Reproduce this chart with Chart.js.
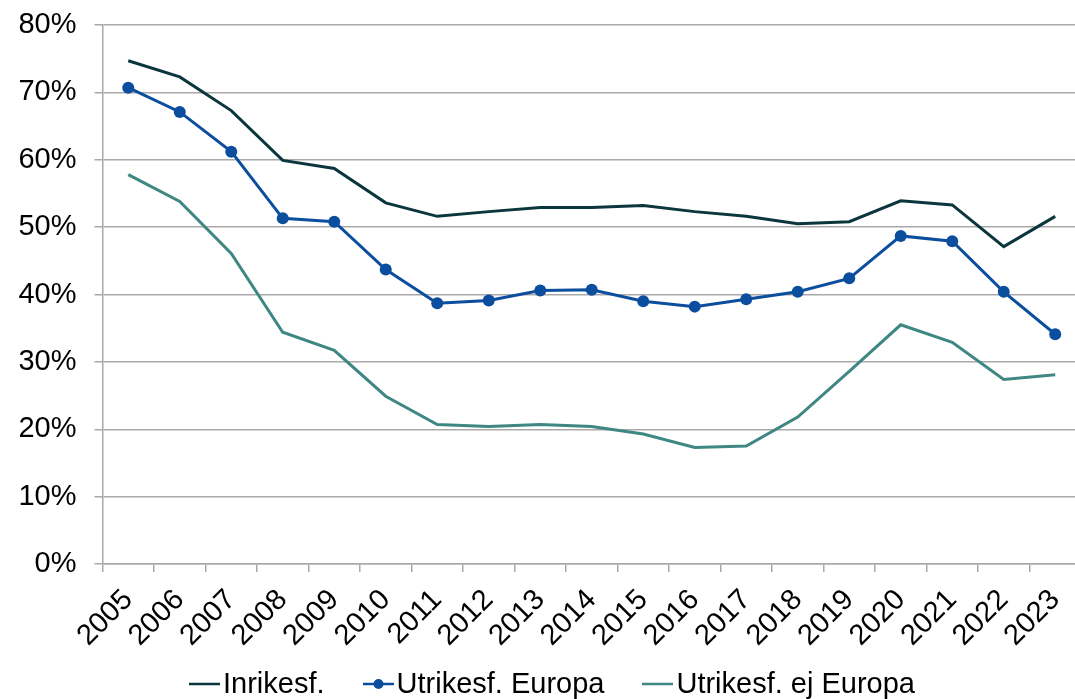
<!DOCTYPE html>
<html>
<head>
<meta charset="utf-8">
<script src="https://cdn.jsdelivr.net/npm/chart.js@4.4.1/dist/chart.umd.min.js"></script>
<style>
  html, body { margin: 0; padding: 0; background: #fff; overflow: hidden; }
  #wrap { position: relative; width: 1091px; height: 699px; }
  #legend {
    position: absolute; left: 189px; top: 669px;
    display: flex; align-items: center;
    font-family: "Liberation Sans", Arial, sans-serif; font-size: 29px; line-height: 29px; color: #000;
    white-space: nowrap;
  }
  #legend .item { display: flex; align-items: center; margin-right: 38px; }
  #legend svg { margin-right: 3px; }
</style>
</head>
<body>
<div id="wrap">
  <canvas id="myCanvas"></canvas>
  <div id="legend"></div>
</div>
<script>
// Data
const years = ['2005', '2006', '2007', '2008', '2009', '2010', '2011', '2012', '2013', '2014',
               '2015', '2016', '2017', '2018', '2019', '2020', '2021', '2022', '2023'];
const inrikes = [74.7, 72.3, 67.3, 59.9, 58.7, 53.6, 51.6, 52.3, 52.9, 52.9,
                 53.2, 52.3, 51.6, 50.5, 50.8, 53.9, 53.3, 47.1, 51.6];
const utrikesEuropa = [70.7, 67.1, 61.2, 51.3, 50.8, 43.7, 38.7, 39.1, 40.6, 40.7,
                       39.0, 38.2, 39.3, 40.4, 42.4, 48.7, 47.9, 40.4, 34.1];
const utrikesEjEuropa = [57.8, 53.8, 46.1, 34.4, 31.7, 24.9, 20.7, 20.4, 20.7, 20.4,
                         19.3, 17.3, 17.5, 21.8, 28.6, 35.5, 32.9, 27.4, 28.1];
const yTicks = [0, 10, 20, 30, 40, 50, 60, 70, 80];

const seriesNames = ['Inrikesf.', 'Utrikesf. Europa', 'Utrikesf. ej Europa'];
const seriesColors = ['#0c363d', '#0c4e9e', '#3f8782'];

const font = { family: '"Liberation Sans", Arial, sans-serif', size: 29 };
const gridColor = '#a9a9a9';

const ctx = document.getElementById('myCanvas').getContext('2d');

const chart = new Chart(ctx, {
    type: 'line',
    data: {
        labels: years,
        datasets: [
            {
                label: seriesNames[0],
                data: inrikes,
                borderColor: seriesColors[0],
                borderWidth: 3,
                pointRadius: 0,
                fill: false,
            },
            {
                label: seriesNames[1],
                data: utrikesEuropa,
                borderColor: seriesColors[1],
                backgroundColor: seriesColors[1],
                borderWidth: 3,
                pointRadius: 6,
                pointBorderWidth: 0,
                pointBackgroundColor: seriesColors[1],
                fill: false,
            },
            {
                label: seriesNames[2],
                data: utrikesEjEuropa,
                borderColor: seriesColors[2],
                borderWidth: 3,
                pointRadius: 0,
                fill: false,
            },
        ],
    },
    options: {
        responsive: true,
        maintainAspectRatio: false,
        devicePixelRatio: 1,
        animation: false,
        layout: { padding: { top: 25, right: 0, bottom: 0, left: 0 } },
        plugins: {
            legend: { display: false },
            tooltip: { enabled: false },
        },
        scales: {
            x: {
                offset: true,
                grid: {
                    offset: true,
                    drawOnChartArea: false,
                    drawTicks: true,
                    tickLength: 8,
                    color: gridColor,
                    lineWidth: 1.5,
                },
                border: { color: gridColor, width: 1.5 },
                ticks: {
                    font: font,
                    color: '#000',
                    minRotation: 45,
                    maxRotation: 45,
                    autoSkip: false,
                    padding: 11,
                },
                afterFit: (scale) => { scale.height = 135; },
            },
            y: {
                min: 0,
                max: 80,
                afterBuildTicks: (scale) => { scale.ticks = yTicks.map(v => ({ value: v })); },
                grid: {
                    color: gridColor,
                    lineWidth: 1.5,
                    drawTicks: true,
                    tickLength: 8,
                },
                border: { color: gridColor, width: 1.5 },
                ticks: {
                    font: font,
                    color: '#000',
                    padding: 18,
                    callback: (v) => v + '%',
                },
                afterFit: (scale) => {
                    scale.width = 102.5;
                    scale.paddingTop = 0;
                    scale.paddingBottom = 0;
                },
            },
        },
    },
});

// Legend (HTML) built from the series names and colours
const legend = document.getElementById('legend');
seriesNames.forEach((name, i) => {
    const item = document.createElement('div');
    item.className = 'item';
    const dot = i === 1 ? `<circle cx="15.5" cy="15" r="5" fill="${seriesColors[i]}"/>` : '';
    item.innerHTML =
        `<svg width="31" height="29"><line x1="0" y1="15" x2="31" y2="15" stroke="${seriesColors[i]}" stroke-width="2.5"/>${dot}</svg>` +
        `<span>${name}</span>`;
    legend.appendChild(item);
});
</script>
</body>
</html>
